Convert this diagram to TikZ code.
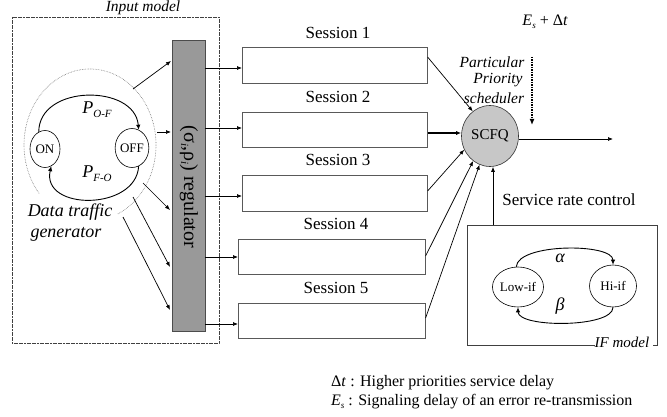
\documentclass[tikz,border=0pt]{standalone}
\usepackage{fontspec}
\setmainfont{Liberation Serif}
\usetikzlibrary{arrows.meta,shapes.geometric}
\tikzset{
  arr/.style={-{Latex[length=5pt,width=4pt]}, line width=0.7pt},
  frame/.style={draw=black!75, line width=0.6pt, dash pattern=on 2pt off 0.6pt},
  sessbox/.style={draw=black!65, line width=0.6pt, fill=white},
  lbl/.style={font=\fontsize{17}{19}\selectfont, inner sep=0pt},
  ilbl/.style={font=\fontsize{15.5}{18}\selectfont\itshape, inner sep=0pt},
  state/.style={ellipse, draw, line width=0.6pt, inner sep=0pt, font=\fontsize{13}{15}\selectfont},
  loop/.style={line width=0.9pt, -{Latex[length=5pt,width=4.5pt]}},
}
\begin{document}
\begin{tikzpicture}[x=1pt,y=1pt]
\useasboundingbox (0,0) rectangle (667,-417);
% Input model frame
\draw[frame] (12,-17) rectangle (219,-343);
\node[ilbl] (inlab) at (143,-8) {Input model};
% regulator
\node[draw=black!70, fill=black!40, minimum width=33pt, minimum height=291pt, inner sep=0pt, anchor=north west] (reg) at (172,-40) {};
\node[font=\fontsize{20}{22}\selectfont, rotate=-90, inner sep=0pt] (regtxt) at (189,-187) {(σ\raisebox{-0.35ex}{\fontsize{11}{11}\selectfont\itshape i},ρ\raisebox{-0.35ex}{\fontsize{11}{11}\selectfont\itshape i}) regulator};
% generator
\draw[black!55, densely dotted, line width=0.6pt] (90,-145) ++(-65:66 and 76) arc[start angle=-65, end angle=220, x radius=66, y radius=76];
\node[state, minimum width=30pt, minimum height=37pt] (on) at (45,-149) {ON};
\node[state, minimum width=28pt, minimum height=39pt] (off) at (132,-148) {OFF};
\draw[loop] (on.110) .. controls (39,-84) and (135,-84) .. (off.70);
\draw[loop] (off.-70) .. controls (136,-211) and (41,-211) .. (on.-70);
\node[font=\fontsize{18}{20}\selectfont\itshape, inner sep=0pt] (pof) at (97,-110) {P\raisebox{-0.45ex}{\fontsize{11}{11}\selectfont O-F}};
\node[font=\fontsize{18}{20}\selectfont\itshape, inner sep=0pt] (pfo) at (97,-174) {P\raisebox{-0.45ex}{\fontsize{11}{11}\selectfont F-O}};
\node[font=\fontsize{18}{20}\selectfont\itshape, inner sep=0pt] (dtg1) at (70,-212) {Data traffic};
\node[font=\fontsize{18}{20}\selectfont\itshape, inner sep=0pt] (dtg2) at (66,-234) {generator};
\coordinate (g1) at (133,-89);
\coordinate (g2) at (157,-132);
\coordinate (g3) at (143,-183);
\coordinate (g4) at (133,-197);
\coordinate (g5) at (123,-217);
\coordinate (r1) at (171,-61);
\coordinate (r2) at (171,-132);
\coordinate (r3) at (170,-210);
\coordinate (r4) at (170,-267);
\coordinate (r5) at (170,-310);
\foreach \i in {1,...,5} \draw[arr] (g\i) -- (r\i);
% sessions
\node[sessbox, minimum width=185pt, minimum height=36pt, anchor=north west, inner sep=0pt] (s1) at (242,-47) {};
\node[sessbox, minimum width=185pt, minimum height=35pt, anchor=north west, inner sep=0pt] (s2) at (242,-112) {};
\node[sessbox, minimum width=185pt, minimum height=36pt, anchor=north west, inner sep=0pt] (s3) at (242,-175) {};
\node[sessbox, minimum width=187pt, minimum height=35pt, anchor=north west, inner sep=0pt] (s4) at (238,-239) {};
\node[sessbox, minimum width=187pt, minimum height=35pt, anchor=north west, inner sep=0pt] (s5) at (238,-303) {};
\node[lbl] (l1) at (338,-33) {Session 1};
\node[lbl] (l2) at (338,-97) {Session 2};
\node[lbl] (l3) at (338,-160) {Session 3};
\node[lbl] (l4) at (336,-224) {Session 4};
\node[lbl] (l5) at (336,-288) {Session 5};
\draw[arr] (reg.east |- 0,-68) -- (s1.west |- 0,-68);
\draw[arr] (reg.east |- 0,-128) -- (s2.west |- 0,-128);
\draw[arr] (reg.east |- 0,-196) -- (s3.west |- 0,-196);
\draw[arr] (reg.east |- 0,-257) -- (s4.west |- 0,-257);
\draw[arr] (reg.east |- 0,-324) -- (s5.west |- 0,-324);
% scheduler
\node[ellipse, draw=black!80, line width=0.6pt, fill=black!22, minimum width=57pt, minimum height=61pt, inner sep=0pt, font=\fontsize{15}{17}\selectfont] (scfq) at (490,-136) {SCFQ};
\draw[arr] (s1.east |- 0,-57) -- (scfq.125);
\draw[arr, line width=1.3pt] (s2.east |- 0,-133) -- (scfq.west |- 0,-133);
\draw[arr] (s3.east |- 0,-191) -- (scfq.208);
\draw[arr] (s4.east |- 0,-256) -- (scfq.236);
\draw[arr] (s5.east |- 0,-318) -- (scfq.250);
\coordinate (out) at (613,-139);
\draw[arr] (scfq.east |- 0,-139) -- (out);
\node[font=\fontsize{16}{18}\selectfont, inner sep=0pt] (est) at (545,-22) {\itshape E\raisebox{-0.4ex}{\fontsize{9}{9}\selectfont s}\upshape\ + Δ\itshape t};
\coordinate (dtop) at (532,-57);
\coordinate (dbot) at (532,-125);
\draw[-{Latex[length=6pt,width=5pt]}, line width=1.3pt, dash pattern=on 1.5pt off 1pt] (dtop) -- (dbot);
\node[ilbl] (pp1) at (492,-62) {Particular};
\node[ilbl] (pp2) at (498,-80) {Priority};
\node[ilbl] (pp3) at (494,-98) {scheduler};
\node[lbl] (src) at (569,-200) {Service rate control};
% IF model
\coordinate (ifa) at (595,-345);
\coordinate (ifb) at (467,-345);
\coordinate (ifc) at (467,-225);
\coordinate (ifd) at (657,-225);
\coordinate (ife) at (657,-345);
\coordinate (iff) at (653,-345);
\draw[black!75, line width=0.6pt] (ifa) -- (ifb) -- (ifc) -- (ifd) -- (ife) -- (iff);
\node[font=\fontsize{15}{17}\selectfont\itshape, inner sep=0pt] (iflab) at (622,-342) {IF model};
\draw[arr] (ifc -| 493,0) -- (scfq.south -| 493,0);
\node[state, minimum width=47pt, minimum height=40pt] (low) at (518,-287) {Low-if};
\node[state, minimum width=47pt, minimum height=42pt] (hi) at (613,-286) {Hi-if};
\draw[loop] (low.95) .. controls (518,-243) and (613,-243) .. (hi.90);
\draw[loop] (hi.-90) .. controls (613,-328) and (518,-328) .. (low.-90);
\node[font=\fontsize{18}{20}\selectfont\itshape, inner sep=0pt] (al) at (560,-258) {α};
\node[font=\fontsize{18}{20}\selectfont\itshape, inner sep=0pt] (be) at (560,-306) {β};
% legend
\node[lbl, font=\fontsize{16}{18}\selectfont, anchor=west] (leg1) at (331,-383) {Δ\textit{t} : Higher priorities service delay};
\node[lbl, font=\fontsize{16}{18}\selectfont, anchor=west] (leg2) at (331,-402) {\textit{E}\raisebox{-0.4ex}{\fontsize{9}{9}\selectfont\itshape s} : Signaling delay of an error re-transmission};
\end{tikzpicture}
\end{document}
